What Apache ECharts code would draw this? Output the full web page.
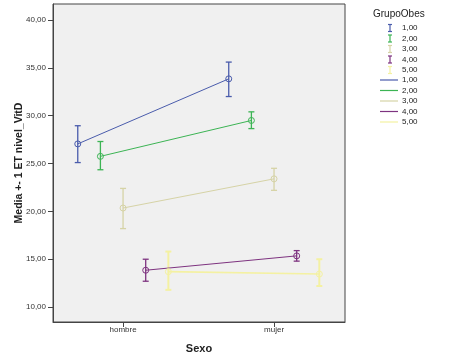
<!DOCTYPE html>
<html><head><meta charset="utf-8">
<script src="https://cdn.jsdelivr.net/npm/echarts@6/dist/echarts.min.js"></script>
<style>html,body{margin:0;padding:0;background:#fff}#c{width:459px;height:359px}</style>
</head><body><div id="c"></div>
<script>
const categories = ['hombre', 'mujer'];
const groups = ['1,00', '2,00', '3,00', '4,00', '5,00'];
const colors = ['#4A5CAC', '#3CB454', '#D6D3A6', '#7E3380', '#F4F1A2'];
const offsets = [-0.3, -0.15, 0, 0.15, 0.3];
// mean per group: [hombre, mujer]
const means = [[27.05, 33.85], [25.75, 29.5], [20.35, 23.4], [13.85, 15.35], [13.7, 13.45]];
const lowers = [[25.1, 32.0], [24.35, 28.65], [18.2, 22.2], [12.7, 14.8], [11.8, 12.2]];
const uppers = [[28.95, 35.6], [27.3, 30.4], [22.4, 24.5], [15.0, 15.9], [15.8, 15.0]];
const yTicks = [10, 15, 20, 25, 30, 35, 40];

const series = [];
groups.forEach((g, i) => {
  const pts = categories.map((c, j) => [j + 1 + offsets[i], means[i][j]]);
  const lw = i === 4 ? 1.6 : 1;
  series.push({
    type: 'line', name: g, data: pts, symbol: 'circle', symbolSize: 6,
    lineStyle: {color: colors[i], width: lw},
    itemStyle: {color: 'rgba(0,0,0,0)', borderColor: colors[i], borderWidth: 1},
    z: 3, silent: true
  });
  series.push({
    type: 'custom', name: g + ' err',
    data: categories.map((c, j) => [j + 1 + offsets[i], lowers[i][j], uppers[i][j]]),
    renderItem: function (params, api) {
      const lo = api.coord([api.value(0), api.value(1)]);
      const hi = api.coord([api.value(0), api.value(2)]);
      const w = 3;
      const st = {stroke: colors[i], lineWidth: i === 4 ? 2 : 1.3};
      return {type: 'group', children: [
        {type: 'line', shape: {x1: lo[0], y1: lo[1], x2: hi[0], y2: hi[1]}, style: st},
        {type: 'line', shape: {x1: lo[0] - w, y1: lo[1], x2: lo[0] + w, y2: lo[1]}, style: st},
        {type: 'line', shape: {x1: hi[0] - w, y1: hi[1], x2: hi[0] + w, y2: hi[1]}, style: st}
      ]};
    },
    encode: {x: 0, y: [1, 2]}, z: 2, silent: true
  });
});

// legend drawn as graphic
const legendEls = [{type: 'text', left: 373, top: 9, style: {text: 'GrupoObes', font: '10px Arial', fill: '#222'}}];
groups.forEach((g, i) => {
  const y = 28 + i * 10.5;
  const st = {stroke: colors[i], lineWidth: 1.2};
  legendEls.push({type: 'line', shape: {x1: 390, y1: y - 3.5, x2: 390, y2: y + 3.5}, style: st});
  legendEls.push({type: 'line', shape: {x1: 388, y1: y - 3.5, x2: 392, y2: y - 3.5}, style: st});
  legendEls.push({type: 'line', shape: {x1: 388, y1: y + 3.5, x2: 392, y2: y + 3.5}, style: st});
  legendEls.push({type: 'text', x: 402, y: y, style: {text: g, font: '8px Arial', fill: '#222', verticalAlign: 'middle'}});
});
groups.forEach((g, i) => {
  const y = 80 + i * 10.5;
  legendEls.push({type: 'line', shape: {x1: 380, y1: y, x2: 398, y2: y}, style: {stroke: colors[i], lineWidth: 1.2}});
  legendEls.push({type: 'text', x: 402, y: y, style: {text: g, font: '8px Arial', fill: '#222', verticalAlign: 'middle'}});
});

const chart = echarts.init(document.getElementById('c'), null, {renderer: 'canvas'});
chart.setOption({
  animation: false,
  backgroundColor: '#ffffff',
  grid: {left: 53, top: 4, width: 292, height: 318, containLabel: false, outerBoundsMode: 'none', show: true,
         backgroundColor: '#F0F0F0', borderColor: '#444', borderWidth: 1},
  xAxis: {
    type: 'value', min: 0.536, max: 2.47,
    name: 'Sexo', nameLocation: 'middle', nameGap: 21, nameMoveOverlap: false,
    nameTextStyle: {fontFamily: 'Arial', fontWeight: 'bold', fontSize: 11, color: '#222'},
    axisLine: {show: true, lineStyle: {color: '#444'}},
    axisTick: {show: true, length: 5, customValues: [1, 2], lineStyle: {color: '#444'}},
    axisLabel: {customValues: [1, 2], formatter: v => categories[Math.round(v) - 1],
      fontFamily: 'Arial', fontSize: 8, color: '#333', margin: 4},
    splitLine: {show: false}
  },
  yAxis: {
    type: 'value', min: 8.44, max: 41.67,
    name: 'Media +- 1 ET nivel_VitD', nameLocation: 'middle', nameGap: 28, nameRotate: 90, nameMoveOverlap: false,
    nameTextStyle: {fontFamily: 'Arial', fontWeight: 'bold', fontSize: 10.5, color: '#222'},
    axisLine: {show: true, lineStyle: {color: '#444'}},
    axisTick: {show: true, length: 5, customValues: yTicks, lineStyle: {color: '#444'}},
    axisLabel: {customValues: yTicks, formatter: v => v.toFixed(2).replace('.', ','),
      fontFamily: 'Arial', fontSize: 8, color: '#333', margin: 7},
    splitLine: {show: false}
  },
  graphic: legendEls,
  series: series
});
</script></body></html>
